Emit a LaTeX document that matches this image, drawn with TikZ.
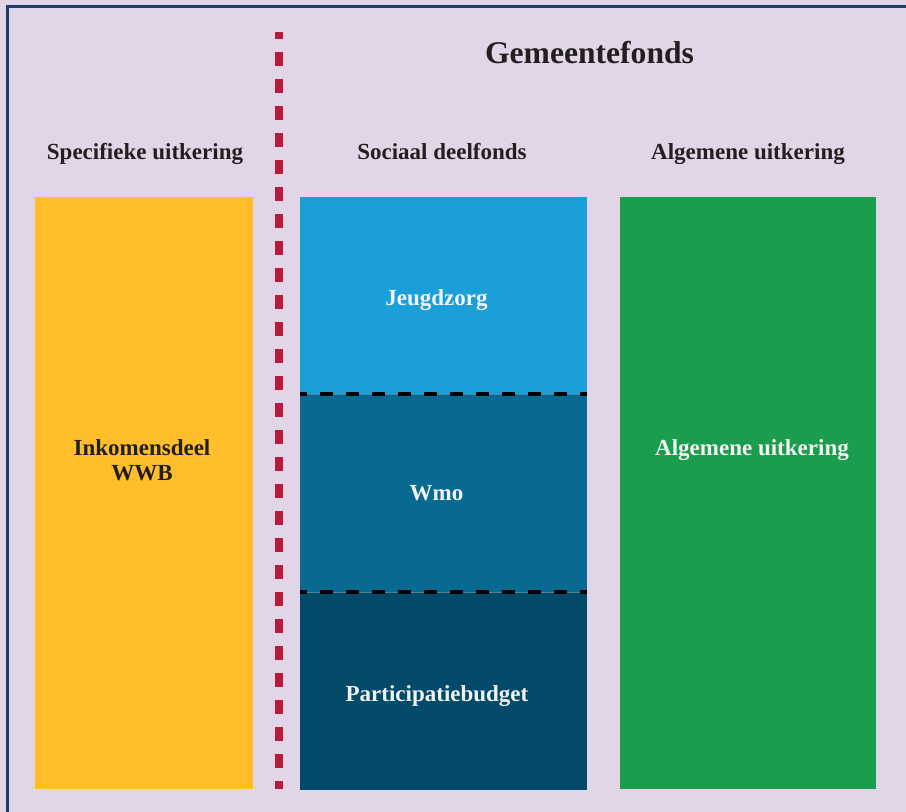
\documentclass[tikz,border=0pt]{standalone}
\usepackage{fontspec}
\setmainfont{Liberation Serif}
\definecolor{panelbg}{HTML}{E3D5E8}
\definecolor{framecol}{HTML}{173F6C}
\definecolor{wwbyellow}{HTML}{FFBE2A}
\definecolor{jeugdblue}{HTML}{1A9FD9}
\definecolor{wmoblue}{HTML}{096A91}
\definecolor{partblue}{HTML}{014A6A}
\definecolor{aluitgreen}{HTML}{1A9E4E}
\definecolor{dividerred}{HTML}{B81C3C}
\definecolor{inktext}{HTML}{231F20}
\definecolor{seamcol}{HTML}{4F8299}
\begin{document}
\begin{tikzpicture}[x=1pt,y=-1pt,
  block/.style={draw=none,inner sep=0pt,outer sep=0pt,anchor=north west},
  title/.style={font=\fontsize{31.6}{36}\selectfont\bfseries,text=inktext,inner sep=0pt,anchor=base},
  header/.style={font=\fontsize{23}{25}\selectfont\bfseries,text=inktext,inner sep=0pt,anchor=base},
  darklabel/.style={font=\fontsize{23}{25}\selectfont\bfseries,text=inktext,inner sep=0pt,anchor=base,align=center},
  lightlabel/.style={font=\fontsize{23}{25}\selectfont\bfseries,text=white!95!black,inner sep=0pt,anchor=base},
  seam/.style={draw=seamcol,line width=0.8pt},
  seamdash/.style={draw=black,line width=3.2pt,dash pattern=on 13pt off 13pt,dash phase=6pt},
  reddivider/.style={draw=dividerred,line width=8pt,dash pattern=on 13.5pt off 13.5pt,dash phase=7pt}
]
\useasboundingbox (0,0) rectangle (906,812);
\clip (0,0) rectangle (906,812);
\fill[panelbg] (0,0) rectangle (906,812);
% outer frame, running off the right and bottom edges
\draw[framecol,line width=3pt] (7.5,6.5) rectangle (940,840);

% red divider between the specific grant and the municipal fund
\coordinate (divtop) at (279,32);
\coordinate (divbot) at (279,789);
\draw[reddivider] (divtop) -- (divbot);

% title and column headers
\node[title] (gf) at (589.5,63) {Gemeentefonds};
\node[header] (hspec) at (145,159) {Specifieke uitkering};
\node[header] (hsoc) at (442,159) {Sociaal deelfonds};
\node[header] (halg) at (748,159) {Algemene uitkering};

% columns
\node[block,fill=wwbyellow,minimum width=218pt,minimum height=592pt] (wwb) at (35,197) {};
\node[block,fill=jeugdblue,minimum width=287pt,minimum height=197pt] (jeugd) at (300,197) {};
\node[block,fill=wmoblue,minimum width=287pt,minimum height=198pt] (wmo) at (300,394) {};
\node[block,fill=partblue,minimum width=287pt,minimum height=198pt] (part) at (300,592) {};
\node[block,fill=aluitgreen,minimum width=256pt,minimum height=592pt] (alg) at (620,197) {};

% seams inside the social fund column
\draw[seam] (jeugd.south west) -- (jeugd.south east);
\draw[seamdash] (jeugd.south west) -- (jeugd.south east);
\draw[seam] (wmo.south west) -- (wmo.south east);
\draw[seamdash] (wmo.south west) -- (wmo.south east);

% labels in the columns (base anchor sits on the last line)
\node[darklabel] (lwwb) at (142,480) {Inkomensdeel\\WWB};
\node[lightlabel] (ljeugd) at (436.5,305) {Jeugdzorg};
\node[lightlabel] (lwmo) at (436.5,500) {Wmo};
\node[lightlabel] (lpart) at (437,701) {Participatiebudget};
\node[lightlabel] (lalg) at (752,455) {Algemene uitkering};
\end{tikzpicture}
\end{document}
